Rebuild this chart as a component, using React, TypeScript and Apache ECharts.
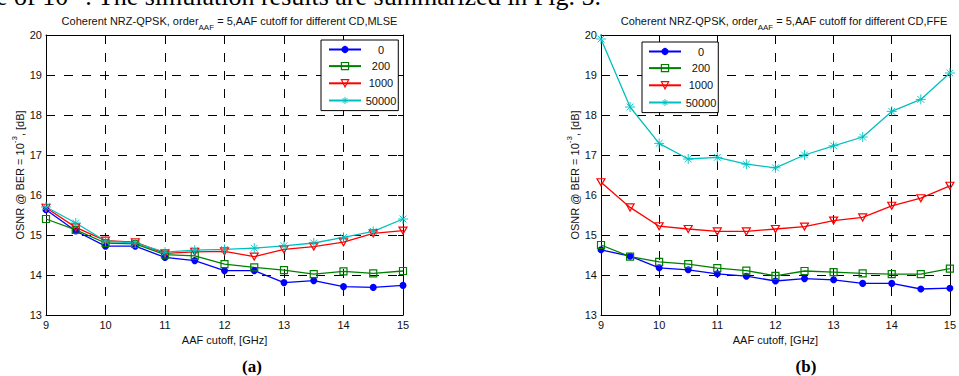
import React, { useEffect, useRef } from "react";
import * as echarts from "echarts";

const cutoffGHz = [9, 9.5, 10, 10.5, 11, 11.5, 12, 12.5, 13, 13.5, 14, 14.5, 15];
const cdLabels = ["0", "200", "1000", "50000"];

// (a) MLSE
const mlseCD0 = [15.63, 15.1, 14.72, 14.72, 14.44, 14.36, 14.11, 14.11, 13.81, 13.86, 13.71, 13.69, 13.74];
const mlseCD200 = [15.4, 15.13, 14.8, 14.78, 14.51, 14.48, 14.27, 14.19, 14.12, 14.02, 14.09, 14.04, 14.1];
const mlseCD1000 = [15.68, 15.19, 14.86, 14.82, 14.54, 14.58, 14.59, 14.46, 14.64, 14.71, 14.82, 15.04, 15.11];
const mlseCD50000 = [15.7, 15.3, 14.85, 14.8, 14.57, 14.62, 14.64, 14.67, 14.73, 14.8, 14.94, 15.09, 15.4];

// (b) FFE
const ffeCD0 = [14.63, 14.47, 14.18, 14.13, 14.03, 13.97, 13.85, 13.91, 13.88, 13.79, 13.79, 13.65, 13.67];
const ffeCD200 = [14.75, 14.46, 14.33, 14.27, 14.17, 14.11, 13.98, 14.1, 14.07, 14.04, 14.02, 14.02, 14.16];
const ffeCD1000 = [16.32, 15.69, 15.22, 15.15, 15.09, 15.09, 15.15, 15.21, 15.36, 15.44, 15.73, 15.92, 16.23];
const ffeCD50000 = [19.9, 18.2, 17.29, 16.9, 16.94, 16.77, 16.68, 17.0, 17.23, 17.45, 18.09, 18.39, 19.05];

const yTicks = { min: 13, max: 20, interval: 1 };
const xTicks = { min: 9, max: 15, interval: 1 };

const FONT = "Liberation Sans";
const SERIF = "Liberation Serif";

const styles = [
  { color: "#0000ff", symbol: "circle", size: 7, filled: true, bw: 0 },
  { color: "#008000", symbol: "rect", size: 7, filled: false, bw: 1.2 },
  { color: "#ff0000", symbol: "path://M0,0L10,0L5,9Z", size: [8, 7], filled: false, bw: 1.2 },
  {
    color: "#00bfbf",
    symbol: "path://M0,5L10,5M5,0L5,10M1.6,1.6L8.4,8.4M1.6,8.4L8.4,1.6",
    size: 10,
    filled: false,
    bw: 0.9,
  },
];

function markerStyle(i: number) {
  const st = styles[i];
  return st.filled
    ? { color: st.color, borderColor: st.color, borderWidth: 0 }
    : { color: "none", borderColor: st.color, borderWidth: st.bw };
}

function makeSeries(values: number[][], gridIdx: number) {
  return values.map((vals, i) => {
    const st = styles[i];
    return {
      type: "line",
      name: cdLabels[i],
      xAxisIndex: gridIdx * 2,
      yAxisIndex: gridIdx * 2,
      data: cutoffGHz.map((x, k) => [x, vals[k]]),
      symbol: st.symbol,
      symbolSize: st.size,
      showAllSymbol: true,
      clip: false,
      lineStyle: { color: st.color, width: 1.3 },
      itemStyle: markerStyle(i),
      emphasis: { disabled: true },
    };
  });
}

function axesFor(gridIdx: number) {
  const dashed = { show: true, lineStyle: { color: "#000", type: [9, 9], width: 1 } };
  const line = { show: true, onZero: false, lineStyle: { color: "#000", width: 1 } };
  const tick = { show: true, inside: true, length: 5, lineStyle: { color: "#000" } };
  const label = { color: "#111", fontFamily: FONT, fontSize: 11 };
  const xs = [
    {
      type: "value",
      gridIndex: gridIdx,
      position: "bottom",
      ...xTicks,
      axisLine: line,
      axisTick: tick,
      axisLabel: { ...label, margin: 4 },
      splitLine: dashed,
      name: "AAF cutoff, [GHz]",
      nameLocation: "middle",
      nameGap: 16,
      nameTextStyle: { color: "#111", fontFamily: FONT, fontSize: 11 },
    },
    {
      type: "value",
      gridIndex: gridIdx,
      position: "top",
      ...xTicks,
      axisLine: line,
      axisTick: tick,
      axisLabel: { show: false },
      splitLine: { show: false },
    },
  ];
  const ys = [
    {
      type: "value",
      gridIndex: gridIdx,
      position: "left",
      ...yTicks,
      axisLine: line,
      axisTick: tick,
      axisLabel: { ...label, margin: 4 },
      splitLine: dashed,
      name: "{n|OSNR @ BER = 10}{p|-3}{n|, [dB]}",
      nameLocation: "middle",
      nameGap: 21,
      nameTextStyle: {
        rich: {
          n: { color: "#111", fontFamily: FONT, fontSize: 11, verticalAlign: "bottom" },
          p: { color: "#111", fontFamily: FONT, fontSize: 8, verticalAlign: "top", padding: [0, 0, 7, 0] },
        },
      },
    },
    {
      type: "value",
      gridIndex: gridIdx,
      position: "right",
      ...yTicks,
      axisLine: line,
      axisTick: tick,
      axisLabel: { show: false },
      splitLine: { show: false },
    },
  ];
  return { xs, ys };
}

function legendAt(left: number, top: number, padLeft: number) {
  return {
    orient: "vertical",
    left,
    top,
    padding: [4, 2, 4, padLeft],
    itemWidth: 32,
    itemHeight: 9,
    itemGap: 5,
    borderColor: "#000",
    borderWidth: 1,
    backgroundColor: "#fff",
    selectedMode: false,
    data: cdLabels.map((name, i) => ({ name, itemStyle: markerStyle(i) })),
    formatter: (name: string) => `{a|${name}}`,
    textStyle: {
      rich: {
        a: { width: 30, align: "center", fontSize: 11, fontFamily: FONT, color: "#111" },
      },
    },
  };
}

function titleAt(centerX: number, suffix: string) {
  return {
    left: centerX,
    top: 10,
    textAlign: "center",
    text: `{n|Coherent NRZ-QPSK, order}{s|AAF}{n| = 5,AAF cutoff for different CD,${suffix}}`,
    textStyle: {
      fontWeight: "normal",
      rich: {
        n: { fontFamily: FONT, fontSize: 11, fontWeight: "normal", color: "#111", verticalAlign: "top", lineHeight: 13 },
        s: { fontFamily: FONT, fontSize: 8, fontWeight: "normal", color: "#111", verticalAlign: "bottom", padding: [8, 0, 0, 0] },
      },
    },
  };
}

export default function App() {
  const ref = useRef<HTMLDivElement>(null);
  useEffect(() => {
    if (!ref.current) return;
    const chart = echarts.init(ref.current, undefined, { renderer: "svg" });
    const a = axesFor(0);
    const b = axesFor(1);
    chart.setOption({
      animation: false,
      backgroundColor: "#fff",
      title: [titleAt(224.5, "MLSE"), titleAt(779, "FFE")],
      grid: [
        { left: 46, top: 35, width: 357, height: 280 },
        { left: 601, top: 35, width: 356, height: 280 },
      ],
      xAxis: [...a.xs, ...b.xs],
      yAxis: [...a.ys, ...b.ys],
      legend: [legendAt(321, 40, 7), legendAt(642, 42, 6)],
      series: [
        ...makeSeries([mlseCD0, mlseCD200, mlseCD1000, mlseCD50000], 0),
        ...makeSeries([ffeCD0, ffeCD200, ffeCD1000, ffeCD50000], 1),
      ],
      graphic: [
        {
          type: "text",
          x: -4,
          y: 9,
          style: {
            text: "{n|e of 10}{p|−3}{n|. The simulation results are summarized in Fig. 5.}",
            verticalAlign: "bottom",
            rich: {
              n: { fontFamily: SERIF, fontSize: 26, fill: "#000", verticalAlign: "bottom" },
              p: { fontFamily: SERIF, fontSize: 16, fill: "#000", verticalAlign: "top", padding: [0, 0, 10, 0] },
            },
          },
        },
        {
          type: "text",
          x: 252,
          y: 366,
          style: {
            text: "(a)",
            fontFamily: SERIF,
            fontSize: 17,
            fontWeight: "bold",
            fill: "#000",
            align: "center",
            verticalAlign: "middle",
          },
        },
        {
          type: "text",
          x: 806,
          y: 366,
          style: {
            text: "(b)",
            fontFamily: SERIF,
            fontSize: 17,
            fontWeight: "bold",
            fill: "#000",
            align: "center",
            verticalAlign: "middle",
          },
        },
      ],
    });
    return () => chart.dispose();
  }, []);
  return (
    <div
      ref={ref}
      style={{ position: "absolute", left: 0, top: 0, width: 959, height: 376 }}
    />
  );
}
